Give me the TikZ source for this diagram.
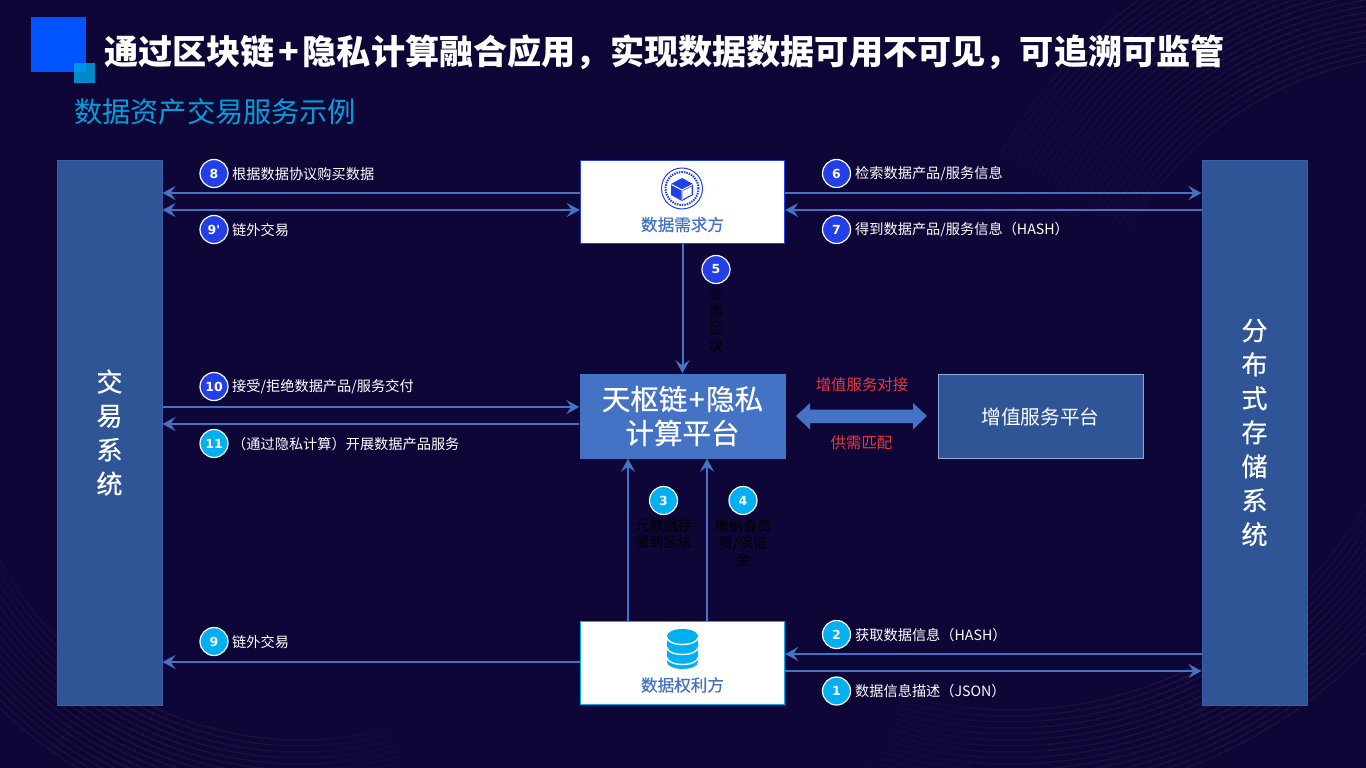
\documentclass[tikz,border=0pt]{standalone}
\usepackage{fontspec}
\setmainfont{Noto Sans CJK SC}
\newfontfamily\medf[FakeBold=0.6]{Noto Sans CJK SC}
\newfontfamily\numf{DejaVu Sans}
\newcommand{\qc}{\symbol{"FF0C}}
\newcommand{\ql}{\symbol{"FF08}}
\newcommand{\qr}{\symbol{"FF09}}
\usetikzlibrary{arrows.meta,calc}
\definecolor{bgc}{HTML}{0E0637}
\definecolor{sysc}{HTML}{2F5597}
\definecolor{sysl}{HTML}{3A5FA8}
\definecolor{linec}{HTML}{4472C4}
\definecolor{numblue}{HTML}{2340E8}
\definecolor{numcyan}{HTML}{00B0F0}
\definecolor{subc}{HTML}{009FDB}
\definecolor{redc}{HTML}{E8383D}
\definecolor{logoa}{HTML}{0054FF}
\definecolor{logob}{HTML}{00A0E6}
\definecolor{vasl}{HTML}{8FAADC}
\definecolor{swoosh}{HTML}{6A3E50}
\newcommand{\swooshband}[6]{% cx,cy,start radius,step-second radius,end radius,start angle (end angle = start + 100)
 \foreach \r in {#3,#4,...,#5}{
  \foreach \k/\o in {0/.04,10/.08,20/.12,30/.16,40/.18,50/.18,60/.16,70/.12,80/.08,90/.04}{
   \pgfmathsetmacro{\sa}{#6+\k}
   \draw[swoosh,opacity=\o,line width=1.5pt] (#1,#2) ++(\sa:\r) arc[start angle=\sa,delta angle=10.2,radius=\r];
  }
 }
}
\tikzset{
 sysbox/.style={rectangle,draw=sysl,fill=sysc,line width=1pt,text=white,inner sep=0pt,font=\medf\fontsize{26}{34}\selectfont,align=center},
 wbox/.style={rectangle,fill=white,line width=1.5pt,minimum width=204pt,minimum height=83pt,inner sep=0pt},
 conn/.style={draw=linec,line width=2pt,-{Stealth[length=13pt,width=14pt,inset=5pt]}},
 connb/.style={draw=linec,line width=2pt,{Stealth[length=13pt,width=14pt,inset=5pt]}-{Stealth[length=13pt,width=14pt,inset=5pt]}},
 numc/.style={circle,draw=white,line width=1.2pt,minimum size=28pt,inner sep=0pt,text=white,font=\numf\fontsize{12.5}{13}\selectfont\bfseries},
 nb/.style={numc,fill=numblue},
 nc/.style={numc,fill=numcyan},
 lab/.style={text=white,anchor=west,inner sep=0pt,font=\fontsize{14.2}{16}\selectfont},
 blk/.style={text=black,align=center,inner sep=0pt,font=\fontsize{14.2}{17.2}\selectfont},
 redl/.style={text=redc,inner sep=0pt,font=\fontsize{15.4}{17}\selectfont},
 boxl/.style={text=linec,inner sep=0pt,font=\medf\fontsize{16.6}{18}\selectfont},
}
\begin{document}
\begin{tikzpicture}[x=1pt,y=-1pt]
\useasboundingbox (0,0) rectangle (1366,768);
\fill[bgc] (0,0) rectangle (1366,768);
% faint background texture
\begin{scope}
\clip (0,0) rectangle (1366,768);
\swooshband{1430}{400}{345}{351}{495}{200}
\swooshband{300}{400}{340}{346}{430}{65}
\swooshband{1010}{300}{410}{416}{500}{15}
\end{scope}
% logo
\fill[logoa] (31,17) rectangle (86,72);
\fill[logob,fill opacity=.85] (74,63) rectangle (95,83);
\node[anchor=west,text=white,inner sep=0pt,font=\fontsize{34.15}{38}\selectfont\bfseries] (title) at (104,52.5) {通过区块链\kern3.5pt+\kern3.5pt隐私计算融合应用\qc 实现数据数据可用不可见\qc 可追溯可监管};
\node[anchor=west,text=subc,inner sep=0pt,font=\fontsize{28.2}{32}\selectfont] (sub) at (74,112) {数据资产交易服务示例};
% boxes
\node[sysbox,minimum width=105pt,minimum height=545pt] (trade) at (109.5,432.5) {交\\易\\系\\统};
\node[sysbox,minimum width=105pt,minimum height=545pt] (store) at (1254.5,432.5) {分\\布\\式\\存\\储\\系\\统};
\node[wbox,draw=numblue] (need) at (682.5,202) {};
\node[wbox,draw=numcyan] (own) at (682.5,663) {};
\node[rectangle,fill=linec,minimum width=206pt,minimum height=85pt,inner sep=0pt,text=white,align=center,font=\medf\fontsize{28.5}{34}\selectfont] (plat) at (682.5,416) {天枢链\kern1.5pt+\kern1.5pt隐私\\计算平台};
\node[rectangle,draw=vasl,fill=sysc,line width=1pt,minimum width=205pt,minimum height=84pt,inner sep=0pt,text=white,font=\fontsize{19.7}{22}\selectfont] (vas) at (1040.5,416.5) {增值服务平台};
% box labels
\node[boxl] (needl) at (682.5,224.5) {数据需求方};
\node[boxl] (ownl) at (682.5,685) {数据权利方};
% need icon
\node[circle,draw=numblue,line width=1pt,minimum size=41pt,inner sep=0pt] (ic1) at (682,188.5) {};
\node[circle,draw=numblue,dash pattern=on 1.5pt off 1pt,line width=2pt,minimum size=33pt,inner sep=0pt] (ic1b) at (682,188.5) {};
\fill[white] (682,188.5) circle (14);
\fill[numblue] (682,178) -- (693,184) -- (693,195) -- (682,201) -- (671,195) -- (671,184) -- cycle;
\draw[white,line width=1pt,line join=round] (671.5,184.5) -- (682,190) -- (692.5,184.5) (682,190) -- (682,200);
\fill[white] (683,191) -- (691.5,186.5) -- (691.5,194.5) -- (683,199) -- cycle;
% owner icon
\fill[numcyan] (667,636) -- (667,662) arc[start angle=180,end angle=0,x radius=15.5,y radius=7] -- (698,636) arc[start angle=0,end angle=-180,x radius=15.5,y radius=7] -- cycle;
\foreach \yy in {637.5,647.5,657.5}{
 \draw[white,line width=1.4pt] (667,\yy) arc[start angle=180,end angle=0,x radius=15.5,y radius=7];
}
% connectors
\draw[conn] (need.west |- 0,193) -- (trade.east |- 0,193);
\draw[connb] (trade.east |- 0,210) -- (need.west |- 0,210);
\draw[conn] (need.east |- 0,193) -- (store.west |- 0,193);
\draw[conn] (store.west |- 0,210) -- (need.east |- 0,210);
\draw[conn] (need.south) -- (plat.north);
\draw[conn] (trade.east |- 0,407) -- (plat.west |- 0,407);
\draw[conn] (plat.west |- 0,424) -- (trade.east |- 0,424);
\draw[conn] (own.north -| 628,0) -- (plat.south -| 628,0);
\draw[conn] (own.north -| 707,0) -- (plat.south -| 707,0);
\draw[conn] (own.west |- 0,662) -- (trade.east |- 0,662);
\draw[conn] (store.west |- 0,654) -- (own.east |- 0,654);
\draw[conn] (own.east |- 0,671) -- (store.west |- 0,671);
% block arrow
\fill[linec] (796,416) -- (810,403) -- (810,409.5) -- (913,409.5) -- (913,403) -- (927,416) -- (913,429.5) -- (913,423) -- (810,423) -- (810,429.5) -- cycle;
\node[redl] (rl1) at (862,384.5) {增值服务对接};
\node[redl] (rl2) at (861.5,443) {供需匹配};
% numbered labels
\node[nb] (n8) at (214,173.5) {8};
\node[lab] (l8) at (232,174) {根据数据协议购买数据};
\node[nb] (n9p) at (214,229.5) {9'};
\node[lab] (l9p) at (232,230) {链外交易};
\node[nb] (n6) at (836.5,173.5) {6};
\node[lab] (l6) at (855,174) {检索数据产品/服务信息};
\node[nb] (n7) at (836.5,229.5) {7};
\node[lab] (l7) at (855,230) {得到数据产品/服务信息\ql HASH\qr};
\node[nb] (n5) at (716,269.5) {5};
\node[blk,text width=16pt] (l5) at (716,320) {查\\询\\区\\块};
\node[nb] (n10) at (214,386.5) {10};
\node[lab] (l10) at (232,387) {接受/拒绝数据产品/服务交付};
\node[nc] (n11) at (214,443.5) {11};
\node[lab] (l11) at (232,444) {\ql 通过隐私计算\qr 开展数据产品服务};
\node[nc] (n3) at (663.5,500.5) {3};
\node[blk,text width=62pt] (l3) at (663.5,534) {元数据存\\储到区块};
\node[nc] (n4) at (743,500.5) {4};
\node[blk,text width=62pt] (l4) at (743,543) {缴纳会员\\费/保证\\金};
\node[nc] (n9) at (214,641.5) {9};
\node[lab] (l9) at (232,642) {链外交易};
\node[nc] (n2) at (836.5,634.5) {2};
\node[lab] (l2) at (855,635) {获取数据信息\ql HASH\qr};
\node[nc] (n1) at (836.5,691) {1};
\node[lab] (l1) at (855,691.5) {数据信息描述\ql JSON\qr};
\end{tikzpicture}
\end{document}
